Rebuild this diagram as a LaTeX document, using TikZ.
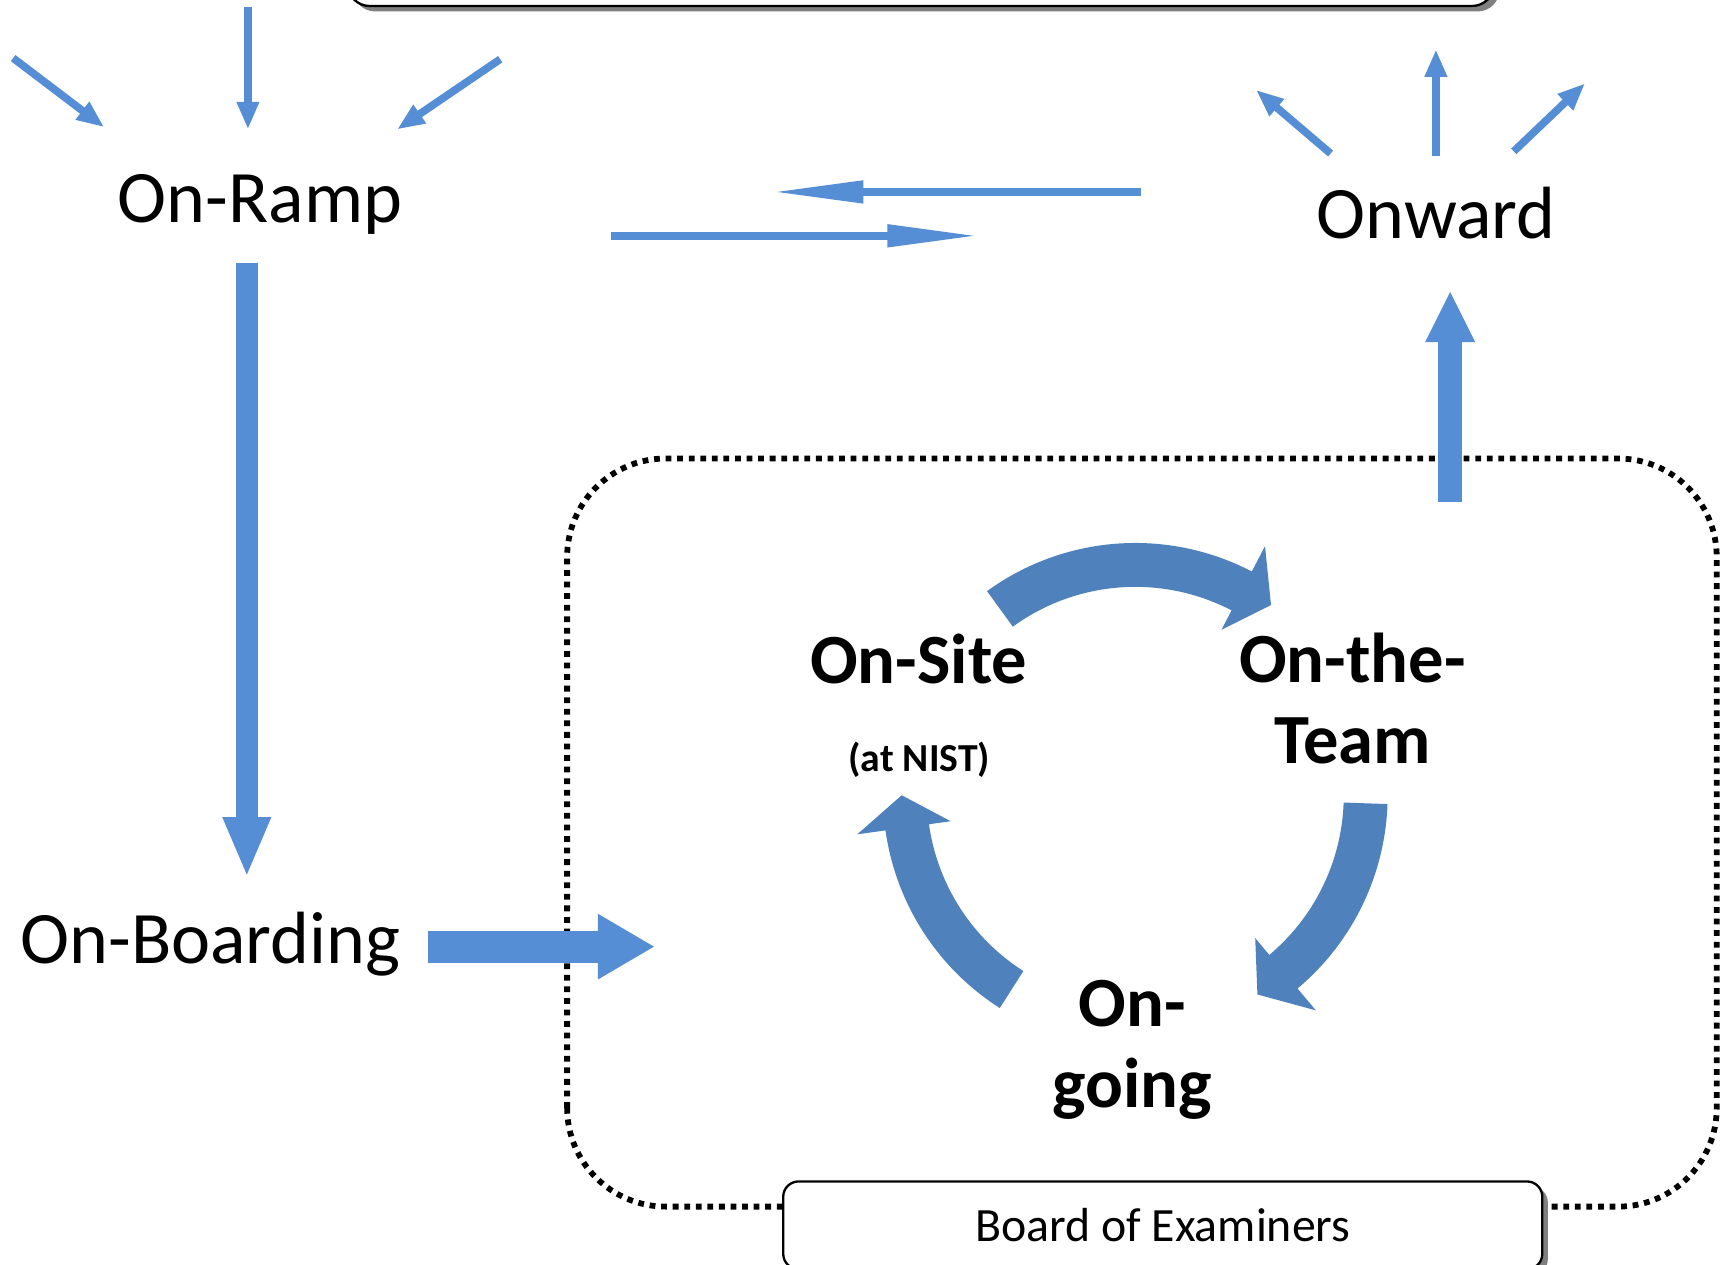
\documentclass[tikz,border=0pt]{standalone}
\usepackage{fontspec}
\setmainfont{Carlito}
\usetikzlibrary{arrows.meta,shadows}
\definecolor{flowblue}{RGB}{85,142,213}
\definecolor{cycleblue}{RGB}{79,129,189}

\begin{document}
\begin{tikzpicture}[
    phase/.style={font=\fontsize{19.2}{23}\selectfont, inner sep=0pt, anchor=base},
    stage/.style={font=\bfseries\fontsize{18.3}{21}\selectfont, inner sep=0pt, align=center},
    fan/.style={draw=flowblue, line width=0.07cm, -{Triangle[length=0.25cm, width=0.19cm]}},
    pass/.style={draw=flowblue, line width=0.075cm, -{Triangle[length=0.84cm, width=0.19cm]}},
    fat/.style={draw=flowblue},
    cyc/.style={fill=cycleblue},
    plate/.style={draw, line width=0.6pt, fill=white,
      drop shadow={shadow xshift=0.05cm, shadow yshift=-0.05cm, fill=gray, opacity=1}}
  ]
  \useasboundingbox (0,0) rectangle (15.68,11.53);
  \clip (0,0) rectangle (15.68,11.53);

  % box at the top, cut by the page
  \path[plate, rounded corners=0.2cm] (3.17,11.475) rectangle (13.62,12.3);

  % dotted frame round the cycle
  \draw[line width=1.5pt, dash pattern=on 1.5pt off 1.5pt, rounded corners=0.9cm]
    (5.17,0.53) rectangle (15.65,7.35);

  \node[phase] (ramp) at (2.37,9.50) {On-Ramp};
  \node[phase] (onward) at (13.09,9.36) {Onward};
  \node[phase] (boarding) at (1.92,2.75) {On-Boarding};

  \node[stage, anchor=base] (site) at (8.375,5.30) {On-Site};
  \node[font=\bfseries\fontsize{10.3}{12}\selectfont, inner sep=0pt, anchor=base] (nist) at (8.38,4.50) {(at NIST)};
  \node[stage] (team) at (12.33,5.165) {On-the-\\Team};
  \node[stage] (going) at (10.32,1.96) {On-\\going};

  \node[plate, rounded corners=0.14cm, minimum width=6.92cm, minimum height=0.8cm,
    anchor=north, font=\fontsize{12.4}{15}\selectfont] (board) at (10.60,0.77) {Board of Examiners};

  % arrows into On-Ramp
  \coordinate (in1) at (0.12,11.00);
  \coordinate (in2) at (2.26,11.47);
  \coordinate (in3) at (4.56,10.99);
  \coordinate (ramp1) at (0.95,10.37);
  \coordinate (ramp2) at (2.26,10.35);
  \coordinate (ramp3) at (3.62,10.35);
  \draw[fan] (in1) -- (ramp1);
  \draw[fan] (in2) -- (ramp2);
  \draw[fan] (in3) -- (ramp3);

  % arrows out of Onward
  \coordinate (onward1) at (12.13,10.13);
  \coordinate (onward2) at (13.09,10.11);
  \coordinate (onward3) at (13.80,10.15);
  \coordinate (out1) at (11.45,10.71);
  \coordinate (out2) at (13.09,11.08);
  \coordinate (out3) at (14.45,10.77);
  \draw[fan] (onward1) -- (out1);
  \draw[fan] (onward2) -- (out2);
  \draw[fan] (onward3) -- (out3);

  % back and forth
  \coordinate (backfrom) at (10.40,9.78);
  \coordinate (backto) at (7.03,9.78);
  \coordinate (forthfrom) at (5.57,9.38);
  \coordinate (forthto) at (8.93,9.38);
  \draw[pass] (backfrom) -- (backto);
  \draw[pass] (forthfrom) -- (forthto);

  % big arrows
  \coordinate (rampout) at (2.25,9.13);
  \coordinate (boardingin) at (2.25,3.53);
  \coordinate (boardingout) at (3.90,2.90);
  \coordinate (framein) at (5.97,2.90);
  \coordinate (frameout) at (13.22,6.95);
  \coordinate (onwardin) at (13.22,8.88);
  \draw[fat, line width=0.2cm, -{Triangle[length=0.55cm, width=0.4cm]}] (rampout) -- (boardingin);
  \draw[fat, line width=0.29cm, -{Triangle[length=0.52cm, width=0.56cm]}] (boardingout) -- (framein);
  \draw[fat, line width=0.22cm, -{Triangle[length=0.47cm, width=0.42cm]}] (frameout) -- (onwardin);

  % the cycle
  \begin{scope}[shift={(10.35,4.28)}]
    \foreach \tail/\base/\tip in {126/62.5/54.5, -2/-50/-58.5, 237.5/188/180}
      \fill[cyc] (\tail:2.3) arc[start angle=\tail, end angle=\base, radius=2.3]
        -- (\base:2.56) -- (\tip:2.13) -- (\base:1.7) -- (\base:1.9)
        arc[start angle=\base, end angle=\tail, radius=1.9] -- cycle;
  \end{scope}
\end{tikzpicture}
\end{document}
